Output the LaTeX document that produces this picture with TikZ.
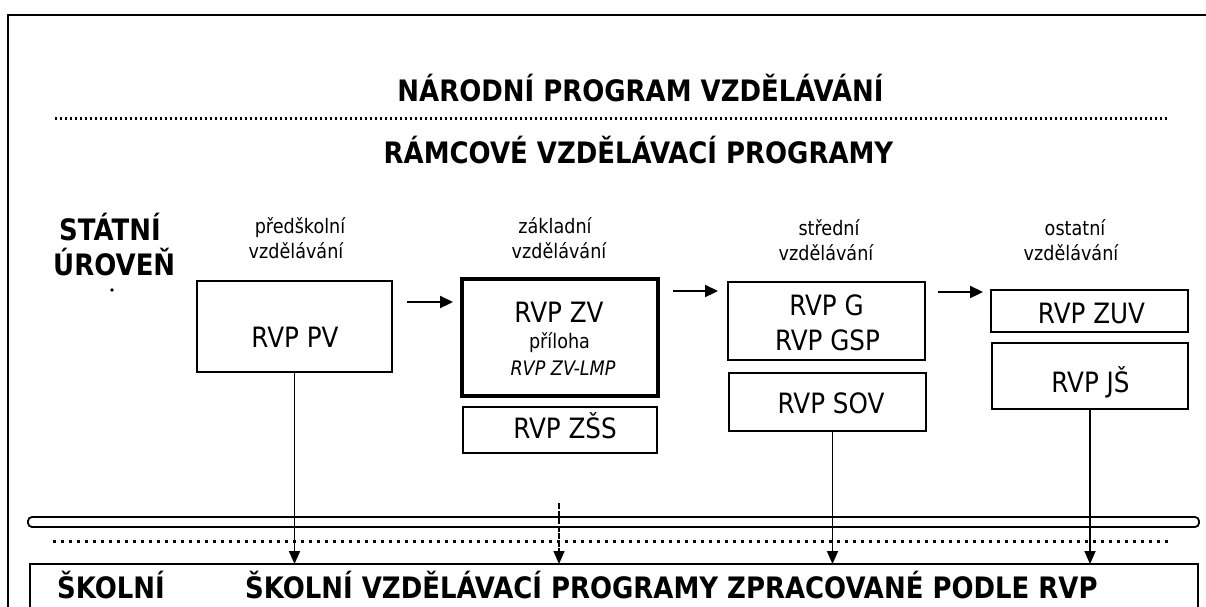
\documentclass[tikz,border=0pt]{standalone}
\usepackage{fontspec}
\setmainfont{DejaVu Sans}[FakeStretch=0.88]
\usetikzlibrary{arrows.meta,calc}
\begin{document}
\begin{tikzpicture}[x=1pt,y=-1pt,
  box/.style={draw, line width=2pt, inner sep=0pt, outer sep=0pt},
  thickbox/.style={box, line width=4.5pt},
  txt/.style={inner sep=0pt, anchor=base, font=\fontsize{28}{30}\selectfont},
  small/.style={inner sep=0pt, anchor=base, font=\fontsize{20}{22}\selectfont},
  head/.style={inner sep=0pt, anchor=base, font=\bfseries\fontsize{29.5}{32}\selectfont},
  arr/.style={line width=1.8pt, -{Triangle[length=13pt,width=11pt]}},
  harr/.style={line width=2.2pt, -{Triangle[length=13pt,width=12pt]}},
  dotline/.style={line width=3pt}
]
\useasboundingbox (0,0) rectangle (1206,606);
\clip (0,0) rectangle (1206,606);
\fill[white] (0,0) rectangle (1206,606);

% outer frame
\draw[line width=2.2pt] (8,650) -- (8,15) -- (1220,15);

% titles
\node[head] (t1) at (640.5,101) {NÁRODNÍ PROGRAM VZDĚLÁVÁNÍ};
\draw[dotline, dash pattern=on 2.2pt off 2.8pt] (55,118) -- (1169,118);
\node[head] (t2) at (638.5,163) {RÁMCOVÉ VZDĚLÁVACÍ PROGRAMY};

\node[head, anchor=base west] (st1) at (59,240) {STÁTNÍ};
\node[head, anchor=base west] (st2) at (53,275) {ÚROVEŇ};
\fill (112,290) circle (1.8);

% column labels
\node[small] (c1a) at (300,233) {předškolní};
\node[small] (c1b) at (296,258) {vzdělávání};
\node[small] (c2a) at (555,233) {základní};
\node[small] (c2b) at (559,258) {vzdělávání};
\node[small] (c3a) at (829,235) {střední};
\node[small] (c3b) at (826,260) {vzdělávání};
\node[small] (c4a) at (1075,235) {ostatní};
\node[small] (c4b) at (1071,260) {vzdělávání};

% boxes
\node[box, minimum width=195pt, minimum height=91pt] (pv) at (294.5,326.5) {};
\node[thickbox, minimum width=196pt, minimum height=117pt] (zv) at (560,337.5) {};
\node[box, minimum width=194pt, minimum height=46pt] (zss) at (560,430) {};
\node[box, minimum width=197pt, minimum height=78pt] (g) at (826.5,321) {};
\node[box, minimum width=197pt, minimum height=58pt] (sov) at (827.5,402) {};
\node[box, minimum width=197pt, minimum height=42pt] (zuv) at (1089.5,311) {};
\node[box, minimum width=196pt, minimum height=66pt] (js) at (1090,376) {};
\node[box, minimum width=1168pt, minimum height=72pt] (bot) at (614,600) {};

% box texts
\node[txt] (tpv) at (295,347) {RVP PV};
\node[txt] (tzv) at (559,322) {RVP ZV};
\node[small] (tpr) at (559.5,348) {příloha};
\node[small, font=\itshape\fontsize{20}{22}\selectfont] (tlmp) at (563,375) {RVP ZV-LMP};
\node[txt] (tzss) at (565,438) {RVP ZŠS};
\node[txt] (tg) at (826.5,315) {RVP G};
\node[txt] (tgsp) at (827.5,350) {RVP GSP};
\node[txt] (tsov) at (831,413) {RVP SOV};
\node[txt] (tzuv) at (1091.5,323) {RVP ZUV};
\node[txt] (tjs) at (1090.5,392) {RVP JŠ};

% horizontal arrows
\draw[harr] ($(pv.north east)+(15,21)$) -- ($(zv.north west)+(-9,23)$);
\draw[harr] ($(zv.north east)+(15,12)$) -- ($(g.north west)+(-10,9)$);
\draw[harr] ($(g.north east)+(13,10)$) -- ($(zuv.north west)+(-8,2)$);

% bar and dotted line
\draw[line width=1.8pt, rounded corners=4pt] (28,517) rectangle (1199,527);
\draw[dotline, dash pattern=on 2.5pt off 5.5pt] (53,541) -- (1170,541);

% vertical arrows
\draw[arr] (pv.south) -- (pv.south |- bot.north);
\coordinate (zvtop) at (559,503);
\draw[arr, line width=1.4pt, dash pattern=on 6pt off 1.5pt] (zvtop) -- (zvtop |- bot.north);
\coordinate (sovs) at ($(sov.south)+(5,0)$);
\draw[arr] (sovs) -- (sovs |- bot.north);
\draw[arr] (js.south) -- (js.south |- bot.north);

% school level
\node[head, anchor=base west] (sk) at (57,598) {ŠKOLNÍ};
\node[head, anchor=base west] (skp) at (245,598) {ŠKOLNÍ VZDĚLÁVACÍ PROGRAMY ZPRACOVANÉ PODLE RVP};
\end{tikzpicture}
\end{document}
